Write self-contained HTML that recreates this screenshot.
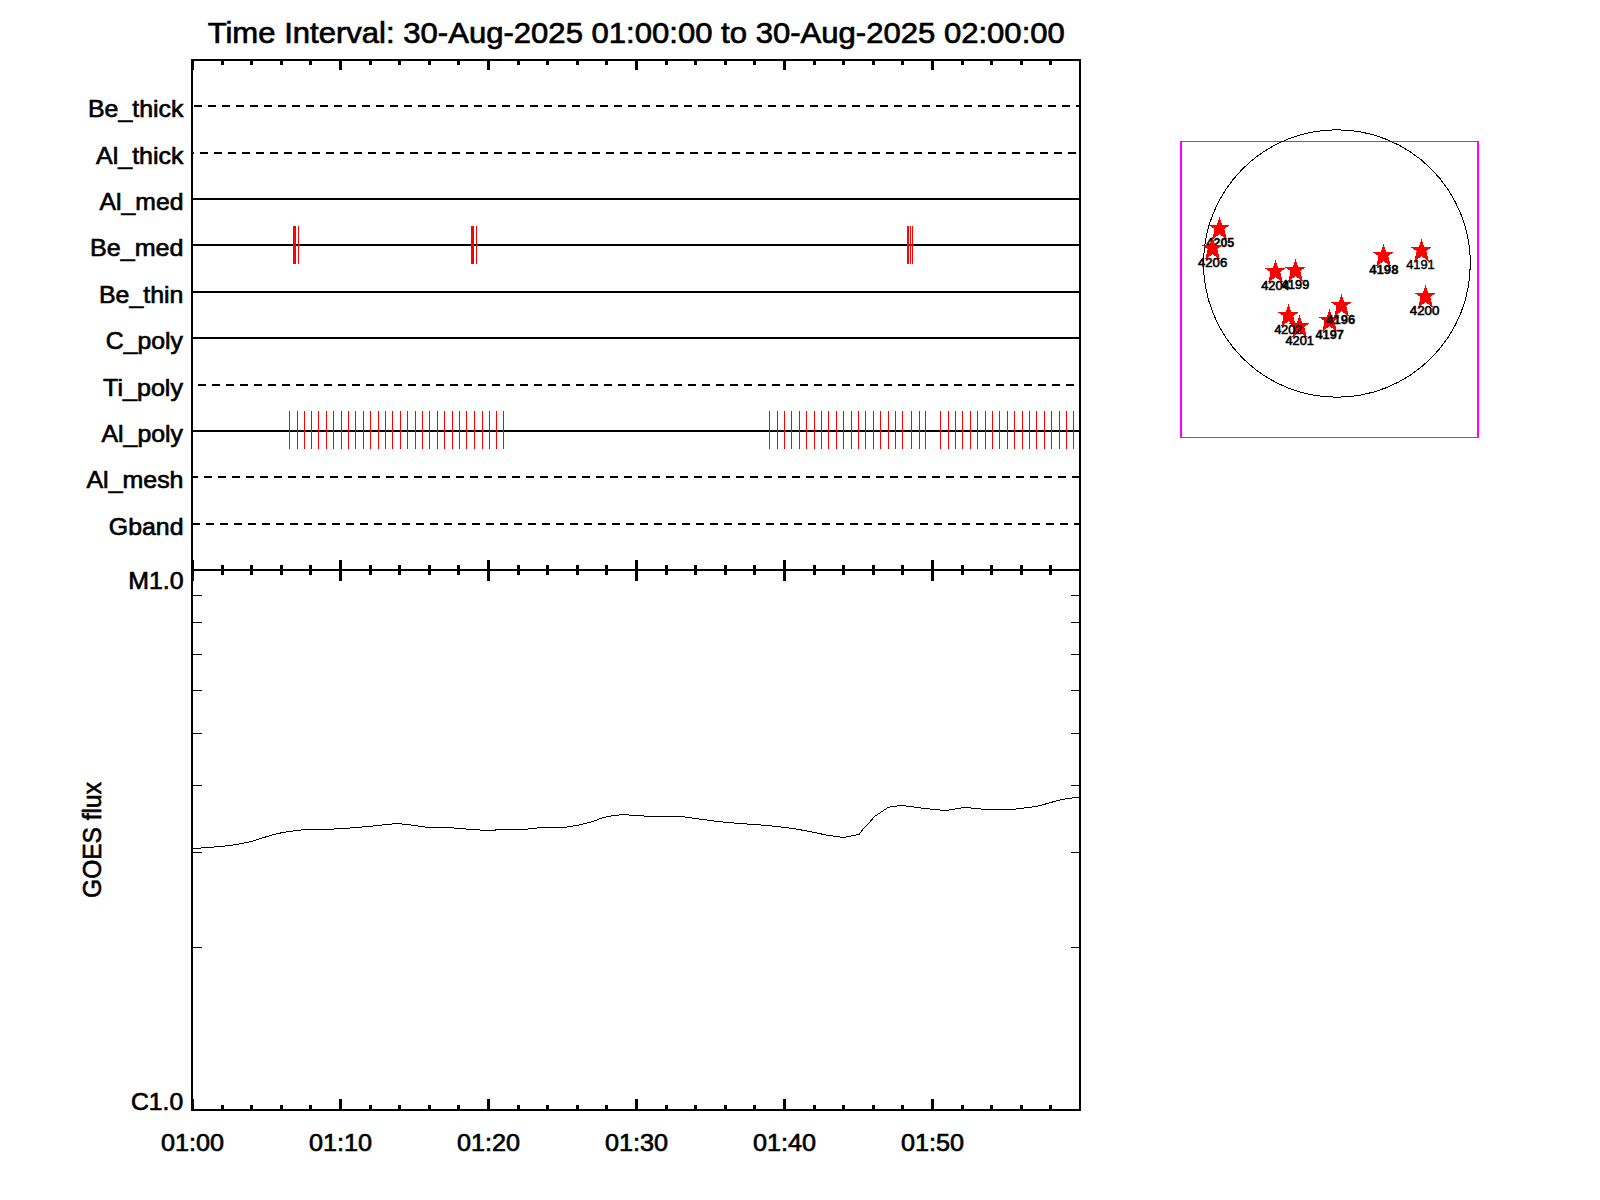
<!DOCTYPE html>
<html><head><meta charset="utf-8"><title>Time Interval plot</title>
<style>
html,body{margin:0;padding:0;background:#fff;}
svg{display:block;}
text{font-family:"Liberation Sans",sans-serif;fill:#000;}
.c{shape-rendering:crispEdges;}
</style></head><body>
<svg xmlns="http://www.w3.org/2000/svg" width="1600" height="1200" viewBox="0 0 1600 1200">
<rect width="1600" height="1200" fill="#fff"/>
<g class="c" fill="#000">
<path d="M194 105h8v2h-8zM208 105h8v2h-8zM222 105h8v2h-8zM236 105h8v2h-8zM250 105h8v2h-8zM264 105h8v2h-8zM278 105h8v2h-8zM292 105h8v2h-8zM306 105h8v2h-8zM320 105h8v2h-8zM334 105h8v2h-8zM348 105h8v2h-8zM362 105h8v2h-8zM376 105h8v2h-8zM390 105h8v2h-8zM404 105h8v2h-8zM418 105h8v2h-8zM432 105h8v2h-8zM446 105h8v2h-8zM460 105h8v2h-8zM474 105h8v2h-8zM488 105h8v2h-8zM502 105h8v2h-8zM516 105h8v2h-8zM530 105h8v2h-8zM544 105h8v2h-8zM558 105h8v2h-8zM572 105h8v2h-8zM586 105h8v2h-8zM600 105h8v2h-8zM614 105h8v2h-8zM628 105h8v2h-8zM642 105h8v2h-8zM656 105h8v2h-8zM670 105h8v2h-8zM684 105h8v2h-8zM698 105h8v2h-8zM712 105h8v2h-8zM726 105h8v2h-8zM740 105h8v2h-8zM754 105h8v2h-8zM768 105h8v2h-8zM782 105h8v2h-8zM796 105h8v2h-8zM810 105h8v2h-8zM824 105h8v2h-8zM838 105h8v2h-8zM852 105h8v2h-8zM866 105h8v2h-8zM880 105h8v2h-8zM894 105h8v2h-8zM908 105h8v2h-8zM922 105h8v2h-8zM936 105h8v2h-8zM950 105h8v2h-8zM964 105h8v2h-8zM978 105h8v2h-8zM992 105h8v2h-8zM1006 105h8v2h-8zM1020 105h8v2h-8zM1034 105h8v2h-8zM1048 105h8v2h-8zM1062 105h8v2h-8zM1076 105h4v2h-4z"/>
<path d="M192 152h2v2h-2zM200 152h8v2h-8zM214 152h8v2h-8zM228 152h8v2h-8zM242 152h8v2h-8zM256 152h8v2h-8zM270 152h8v2h-8zM284 152h8v2h-8zM298 152h8v2h-8zM312 152h8v2h-8zM326 152h8v2h-8zM340 152h8v2h-8zM354 152h8v2h-8zM368 152h8v2h-8zM382 152h8v2h-8zM396 152h8v2h-8zM410 152h8v2h-8zM424 152h8v2h-8zM438 152h8v2h-8zM452 152h8v2h-8zM466 152h8v2h-8zM480 152h8v2h-8zM494 152h8v2h-8zM508 152h8v2h-8zM522 152h8v2h-8zM536 152h8v2h-8zM550 152h8v2h-8zM564 152h8v2h-8zM578 152h8v2h-8zM592 152h8v2h-8zM606 152h8v2h-8zM620 152h8v2h-8zM634 152h8v2h-8zM648 152h8v2h-8zM662 152h8v2h-8zM676 152h8v2h-8zM690 152h8v2h-8zM704 152h8v2h-8zM718 152h8v2h-8zM732 152h8v2h-8zM746 152h8v2h-8zM760 152h8v2h-8zM774 152h8v2h-8zM788 152h8v2h-8zM802 152h8v2h-8zM816 152h8v2h-8zM830 152h8v2h-8zM844 152h8v2h-8zM858 152h8v2h-8zM872 152h8v2h-8zM886 152h8v2h-8zM900 152h8v2h-8zM914 152h8v2h-8zM928 152h8v2h-8zM942 152h8v2h-8zM956 152h8v2h-8zM970 152h8v2h-8zM984 152h8v2h-8zM998 152h8v2h-8zM1012 152h8v2h-8zM1026 152h8v2h-8zM1040 152h8v2h-8zM1054 152h8v2h-8zM1068 152h8v2h-8z"/>
<rect x="192" y="198" width="888" height="2"/>
<rect x="192" y="244" width="888" height="2"/>
<rect x="192" y="291" width="888" height="2"/>
<rect x="192" y="337" width="888" height="2"/>
<path d="M198 384h8v2h-8zM212 384h8v2h-8zM226 384h8v2h-8zM240 384h8v2h-8zM254 384h8v2h-8zM268 384h8v2h-8zM282 384h8v2h-8zM296 384h8v2h-8zM310 384h8v2h-8zM324 384h8v2h-8zM338 384h8v2h-8zM352 384h8v2h-8zM366 384h8v2h-8zM380 384h8v2h-8zM394 384h8v2h-8zM408 384h8v2h-8zM422 384h8v2h-8zM436 384h8v2h-8zM450 384h8v2h-8zM464 384h8v2h-8zM478 384h8v2h-8zM492 384h8v2h-8zM506 384h8v2h-8zM520 384h8v2h-8zM534 384h8v2h-8zM548 384h8v2h-8zM562 384h8v2h-8zM576 384h8v2h-8zM590 384h8v2h-8zM604 384h8v2h-8zM618 384h8v2h-8zM632 384h8v2h-8zM646 384h8v2h-8zM660 384h8v2h-8zM674 384h8v2h-8zM688 384h8v2h-8zM702 384h8v2h-8zM716 384h8v2h-8zM730 384h8v2h-8zM744 384h8v2h-8zM758 384h8v2h-8zM772 384h8v2h-8zM786 384h8v2h-8zM800 384h8v2h-8zM814 384h8v2h-8zM828 384h8v2h-8zM842 384h8v2h-8zM856 384h8v2h-8zM870 384h8v2h-8zM884 384h8v2h-8zM898 384h8v2h-8zM912 384h8v2h-8zM926 384h8v2h-8zM940 384h8v2h-8zM954 384h8v2h-8zM968 384h8v2h-8zM982 384h8v2h-8zM996 384h8v2h-8zM1010 384h8v2h-8zM1024 384h8v2h-8zM1038 384h8v2h-8zM1052 384h8v2h-8zM1066 384h8v2h-8z"/>
<rect x="192" y="430" width="888" height="2"/>
<path d="M192 476h6v2h-6zM204 476h8v2h-8zM218 476h8v2h-8zM232 476h8v2h-8zM246 476h8v2h-8zM260 476h8v2h-8zM274 476h8v2h-8zM288 476h8v2h-8zM302 476h8v2h-8zM316 476h8v2h-8zM330 476h8v2h-8zM344 476h8v2h-8zM358 476h8v2h-8zM372 476h8v2h-8zM386 476h8v2h-8zM400 476h8v2h-8zM414 476h8v2h-8zM428 476h8v2h-8zM442 476h8v2h-8zM456 476h8v2h-8zM470 476h8v2h-8zM484 476h8v2h-8zM498 476h8v2h-8zM512 476h8v2h-8zM526 476h8v2h-8zM540 476h8v2h-8zM554 476h8v2h-8zM568 476h8v2h-8zM582 476h8v2h-8zM596 476h8v2h-8zM610 476h8v2h-8zM624 476h8v2h-8zM638 476h8v2h-8zM652 476h8v2h-8zM666 476h8v2h-8zM680 476h8v2h-8zM694 476h8v2h-8zM708 476h8v2h-8zM722 476h8v2h-8zM736 476h8v2h-8zM750 476h8v2h-8zM764 476h8v2h-8zM778 476h8v2h-8zM792 476h8v2h-8zM806 476h8v2h-8zM820 476h8v2h-8zM834 476h8v2h-8zM848 476h8v2h-8zM862 476h8v2h-8zM876 476h8v2h-8zM890 476h8v2h-8zM904 476h8v2h-8zM918 476h8v2h-8zM932 476h8v2h-8zM946 476h8v2h-8zM960 476h8v2h-8zM974 476h8v2h-8zM988 476h8v2h-8zM1002 476h8v2h-8zM1016 476h8v2h-8zM1030 476h8v2h-8zM1044 476h8v2h-8zM1058 476h8v2h-8zM1072 476h8v2h-8z"/>
<path d="M192 523h8v2h-8zM206 523h8v2h-8zM220 523h8v2h-8zM234 523h8v2h-8zM248 523h8v2h-8zM262 523h8v2h-8zM276 523h8v2h-8zM290 523h8v2h-8zM304 523h8v2h-8zM318 523h8v2h-8zM332 523h8v2h-8zM346 523h8v2h-8zM360 523h8v2h-8zM374 523h8v2h-8zM388 523h8v2h-8zM402 523h8v2h-8zM416 523h8v2h-8zM430 523h8v2h-8zM444 523h8v2h-8zM458 523h8v2h-8zM472 523h8v2h-8zM486 523h8v2h-8zM500 523h8v2h-8zM514 523h8v2h-8zM528 523h8v2h-8zM542 523h8v2h-8zM556 523h8v2h-8zM570 523h8v2h-8zM584 523h8v2h-8zM598 523h8v2h-8zM612 523h8v2h-8zM626 523h8v2h-8zM640 523h8v2h-8zM654 523h8v2h-8zM668 523h8v2h-8zM682 523h8v2h-8zM696 523h8v2h-8zM710 523h8v2h-8zM724 523h8v2h-8zM738 523h8v2h-8zM752 523h8v2h-8zM766 523h8v2h-8zM780 523h8v2h-8zM794 523h8v2h-8zM808 523h8v2h-8zM822 523h8v2h-8zM836 523h8v2h-8zM850 523h8v2h-8zM864 523h8v2h-8zM878 523h8v2h-8zM892 523h8v2h-8zM906 523h8v2h-8zM920 523h8v2h-8zM934 523h8v2h-8zM948 523h8v2h-8zM962 523h8v2h-8zM976 523h8v2h-8zM990 523h8v2h-8zM1004 523h8v2h-8zM1018 523h8v2h-8zM1032 523h8v2h-8zM1046 523h8v2h-8zM1060 523h8v2h-8zM1074 523h6v2h-6z"/>
</g>
<g class="c" fill="#f00">
<rect x="293" y="226" width="3" height="38"/>
<rect x="298" y="226" width="1" height="38"/>
<rect x="471" y="226" width="3" height="38"/>
<rect x="476" y="226" width="1" height="38"/>
<rect x="907" y="226" width="2" height="38"/>
<rect x="910" y="226" width="1" height="38"/>
<rect x="912" y="226" width="1" height="38"/>
<path d="M289 411h1v38h-1zM297 411h1v38h-1zM304 411h1v38h-1zM311 411h1v38h-1zM318 411h1v38h-1zM326 411h1v38h-1zM333 411h1v38h-1zM341 411h1v38h-1zM348 411h1v38h-1zM355 411h1v38h-1zM363 411h1v38h-1zM370 411h1v38h-1zM378 411h1v38h-1zM385 411h1v38h-1zM392 411h1v38h-1zM400 411h1v38h-1zM407 411h1v38h-1zM415 411h1v38h-1zM422 411h1v38h-1zM429 411h1v38h-1zM437 411h1v38h-1zM444 411h1v38h-1zM452 411h1v38h-1zM459 411h1v38h-1zM466 411h1v38h-1zM474 411h1v38h-1zM482 411h1v38h-1zM489 411h1v38h-1zM496 411h1v38h-1zM503 411h1v38h-1zM769 411h1v38h-1zM777 411h1v38h-1zM784 411h1v38h-1zM791 411h1v38h-1zM799 411h1v38h-1zM806 411h1v38h-1zM814 411h1v38h-1zM821 411h1v38h-1zM828 411h1v38h-1zM836 411h1v38h-1zM843 411h1v38h-1zM851 411h1v38h-1zM858 411h1v38h-1zM865 411h1v38h-1zM873 411h1v38h-1zM880 411h1v38h-1zM888 411h1v38h-1zM895 411h1v38h-1zM902 411h1v38h-1zM911 411h1v38h-1zM919 411h1v38h-1zM925 411h1v38h-1zM940 411h1v38h-1zM948 411h1v38h-1zM955 411h1v38h-1zM962 411h1v38h-1zM970 411h1v38h-1zM977 411h1v38h-1zM985 411h1v38h-1zM992 411h1v38h-1zM999 411h1v38h-1zM1007 411h1v38h-1zM1014 411h1v38h-1zM1022 411h1v38h-1zM1029 411h1v38h-1zM1036 411h1v38h-1zM1044 411h1v38h-1zM1051 411h1v38h-1zM1059 411h1v38h-1zM1066 411h1v38h-1zM1073 411h1v38h-1z"/>
</g>
<g class="c" fill="#000">
<rect x="191" y="59" width="2" height="1052"/>
<rect x="1079" y="59" width="2" height="1052"/>
<rect x="191" y="59" width="890" height="2"/>
<rect x="191" y="569" width="890" height="2"/>
<rect x="191" y="1109" width="890" height="2"/>
<path d="M191 59h3v11h-3zM191 560h3v21h-3zM191 1099h3v12h-3zM221 59h3v6h-3zM221 565h3v10h-3zM221 1105h3v6h-3zM250 59h3v6h-3zM250 565h3v10h-3zM250 1105h3v6h-3zM280 59h3v6h-3zM280 565h3v10h-3zM280 1105h3v6h-3zM309 59h3v6h-3zM309 565h3v10h-3zM309 1105h3v6h-3zM339 59h3v11h-3zM339 560h3v21h-3zM339 1099h3v12h-3zM369 59h3v6h-3zM369 565h3v10h-3zM369 1105h3v6h-3zM398 59h3v6h-3zM398 565h3v10h-3zM398 1105h3v6h-3zM428 59h3v6h-3zM428 565h3v10h-3zM428 1105h3v6h-3zM457 59h3v6h-3zM457 565h3v10h-3zM457 1105h3v6h-3zM487 59h3v11h-3zM487 560h3v21h-3zM487 1099h3v12h-3zM517 59h3v6h-3zM517 565h3v10h-3zM517 1105h3v6h-3zM546 59h3v6h-3zM546 565h3v10h-3zM546 1105h3v6h-3zM576 59h3v6h-3zM576 565h3v10h-3zM576 1105h3v6h-3zM605 59h3v6h-3zM605 565h3v10h-3zM605 1105h3v6h-3zM635 59h3v11h-3zM635 560h3v21h-3zM635 1099h3v12h-3zM665 59h3v6h-3zM665 565h3v10h-3zM665 1105h3v6h-3zM694 59h3v6h-3zM694 565h3v10h-3zM694 1105h3v6h-3zM724 59h3v6h-3zM724 565h3v10h-3zM724 1105h3v6h-3zM753 59h3v6h-3zM753 565h3v10h-3zM753 1105h3v6h-3zM783 59h3v11h-3zM783 560h3v21h-3zM783 1099h3v12h-3zM813 59h3v6h-3zM813 565h3v10h-3zM813 1105h3v6h-3zM842 59h3v6h-3zM842 565h3v10h-3zM842 1105h3v6h-3zM872 59h3v6h-3zM872 565h3v10h-3zM872 1105h3v6h-3zM901 59h3v6h-3zM901 565h3v10h-3zM901 1105h3v6h-3zM931 59h3v11h-3zM931 560h3v21h-3zM931 1099h3v12h-3zM961 59h3v6h-3zM961 565h3v10h-3zM961 1105h3v6h-3zM990 59h3v6h-3zM990 565h3v10h-3zM990 1105h3v6h-3zM1020 59h3v6h-3zM1020 565h3v10h-3zM1020 1105h3v6h-3zM1049 59h3v6h-3zM1049 565h3v10h-3zM1049 1105h3v6h-3z"/>
<path d="M193 947h9v1h-9zM1071 947h9v1h-9zM193 852h9v1h-9zM1071 852h9v1h-9zM193 785h9v1h-9zM1071 785h9v1h-9zM193 733h9v1h-9zM1071 733h9v1h-9zM193 690h9v1h-9zM1071 690h9v1h-9zM193 654h9v1h-9zM1071 654h9v1h-9zM193 622h9v1h-9zM1071 622h9v1h-9zM193 595h9v1h-9zM1071 595h9v1h-9z"/>
</g>
<polyline class="c" fill="none" stroke="#000" stroke-width="1" points="192.0,848.5 196.0,848.5 207.0,847.5 220.5,846.5 229.5,845.5 236.0,844.5 241.5,843.5 246.5,842.5 251.0,841.5 254.5,840.5 257.5,839.5 260.8,838.5 264.0,837.5 267.0,836.5 270.4,835.5 274.4,834.5 278.4,833.5 282.8,832.5 289.0,831.5 298.0,830.5 305.0,829.5 331.0,829.5 336.5,828.5 344.0,828.5 355.5,827.5 368.5,826.5 377.6,825.5 386.6,824.5 397.4,823.5 407.0,824.5 414.5,825.5 422.0,826.5 428.0,827.5 449.0,827.5 458.5,828.5 473.5,829.5 485.5,830.5 493.0,830.5 498.0,829.5 523.0,829.5 532.5,828.5 542.0,827.5 564.0,827.5 570.0,826.5 576.5,825.5 581.2,824.5 585.4,823.5 589.2,822.5 592.5,821.5 595.5,820.5 598.1,819.5 600.7,818.5 603.6,817.5 607.6,816.5 614.3,815.5 623.6,814.5 634.5,815.5 642.0,815.5 646.0,816.5 682.0,816.5 688.0,817.5 695.6,818.5 703.1,819.5 710.6,820.5 718.2,821.5 727.6,822.5 740.0,823.5 754.5,824.5 767.5,825.5 777.0,826.5 784.5,827.5 792.8,828.5 798.6,829.5 804.3,830.5 809.5,831.5 814.6,832.5 819.3,833.5 823.7,834.5 829.1,835.5 836.2,836.5 843.0,837.5 848.4,836.5 853.3,835.5 858.9,834.5 862.2,830.1 869.7,822.2 873.9,817.0 887.5,807.8 892.2,806.5 899.2,805.8 902.5,805.5 909.8,806.5 917.5,807.5 925.2,808.5 934.6,809.5 945.0,810.5 952.4,809.5 957.6,808.5 964.6,807.5 976.5,808.5 986.0,809.5 1012.0,809.5 1019.4,808.5 1028.8,807.5 1035.4,806.5 1040.1,805.5 1043.9,804.5 1047.1,803.5 1050.6,802.5 1054.4,801.5 1058.1,800.5 1062.1,799.5 1068.6,798.5 1076.0,797.5 1080.0,797.5"/>
<text x="207.65" y="42.65" font-size="29.5" textLength="857.21" lengthAdjust="spacingAndGlyphs" stroke="#000" stroke-width="0.7">Time Interval: 30-Aug-2025 01:00:00 to 30-Aug-2025 02:00:00</text>
<text x="88.03" y="116.68" font-size="23.76" textLength="95.51" lengthAdjust="spacingAndGlyphs" stroke="#000" stroke-width="0.65">Be_thick</text>
<text x="96.03" y="163.68" font-size="23.76" textLength="87.51" lengthAdjust="spacingAndGlyphs" stroke="#000" stroke-width="0.65">Al_thick</text>
<text x="99.53" y="209.68" font-size="23.76" textLength="83.94" lengthAdjust="spacingAndGlyphs" stroke="#000" stroke-width="0.65">Al_med</text>
<text x="90.02" y="255.68" font-size="23.76" textLength="93.48" lengthAdjust="spacingAndGlyphs" stroke="#000" stroke-width="0.65">Be_med</text>
<text x="99.03" y="302.68" font-size="23.76" textLength="84.46" lengthAdjust="spacingAndGlyphs" stroke="#000" stroke-width="0.65">Be_thin</text>
<text x="105.82" y="348.68" font-size="23.76" textLength="77.16" lengthAdjust="spacingAndGlyphs" stroke="#000" stroke-width="0.65">C_poly</text>
<text x="103.07" y="395.68" font-size="23.76" textLength="79.91" lengthAdjust="spacingAndGlyphs" stroke="#000" stroke-width="0.65">Ti_poly</text>
<text x="101.48" y="441.68" font-size="23.76" textLength="81.50" lengthAdjust="spacingAndGlyphs" stroke="#000" stroke-width="0.65">Al_poly</text>
<text x="86.48" y="487.68" font-size="23.76" textLength="97.02" lengthAdjust="spacingAndGlyphs" stroke="#000" stroke-width="0.65">Al_mesh</text>
<text x="108.82" y="534.68" font-size="23.76" textLength="74.65" lengthAdjust="spacingAndGlyphs" stroke="#000" stroke-width="0.65">Gband</text>
<text x="128.28" y="588.68" font-size="23.76" textLength="55.37" lengthAdjust="spacingAndGlyphs" stroke="#000" stroke-width="0.65">M1.0</text>
<text x="130.97" y="1109.68" font-size="23.76" textLength="52.17" lengthAdjust="spacingAndGlyphs" stroke="#000" stroke-width="0.65">C1.0</text>
<text x="160.94" y="1150.85" font-size="23.76" textLength="63.12" lengthAdjust="spacingAndGlyphs" stroke="#000" stroke-width="0.65">01:00</text>
<text x="308.94" y="1150.85" font-size="23.76" textLength="63.12" lengthAdjust="spacingAndGlyphs" stroke="#000" stroke-width="0.65">01:10</text>
<text x="456.94" y="1150.85" font-size="23.76" textLength="63.12" lengthAdjust="spacingAndGlyphs" stroke="#000" stroke-width="0.65">01:20</text>
<text x="604.94" y="1150.85" font-size="23.76" textLength="63.12" lengthAdjust="spacingAndGlyphs" stroke="#000" stroke-width="0.65">01:30</text>
<text x="752.94" y="1150.85" font-size="23.76" textLength="63.12" lengthAdjust="spacingAndGlyphs" stroke="#000" stroke-width="0.65">01:40</text>
<text x="900.94" y="1150.85" font-size="23.76" textLength="63.12" lengthAdjust="spacingAndGlyphs" stroke="#000" stroke-width="0.65">01:50</text>
<text transform="translate(100.68,897.91) rotate(-90)" font-size="25.2" textLength="115.85" lengthAdjust="spacingAndGlyphs" stroke="#000" stroke-width="0.65">GOES flux</text>
<g class="c">
<rect x="1180" y="141" width="2" height="297" fill="#f0f"/><rect x="1477" y="141" width="2" height="297" fill="#f0f"/><rect x="1180" y="141" width="299" height="1" fill="#f0f"/><rect x="1180" y="437" width="299" height="1" fill="#f0f"/>
<ellipse cx="1336.9" cy="263.5" rx="133.4" ry="133.7" fill="none" stroke="#000" stroke-width="1"/>
</g>
<polygon class="c" fill="#f00" points="1421.5,239.1 1424.2,246.6 1431.2,247.2 1426.4,251.1 1428.8,261.5 1421.5,256.2 1414.2,261.5 1416.6,251.1 1410.9,247.2 1418.8,246.6"/>
<text x="1406.15" y="268.9" font-size="12.6" text-anchor="start" textLength="28.55" lengthAdjust="spacingAndGlyphs" stroke="#000" stroke-width="0.4">4191</text>
<polygon class="c" fill="#f00" points="1383.5,244.1 1386.2,251.6 1393.2,252.2 1388.4,256.1 1390.8,266.5 1383.5,261.2 1376.2,266.5 1378.6,256.1 1372.9,252.2 1380.8,251.6"/>
<text x="1369.25" y="273.9" font-size="12.6" text-anchor="start" textLength="29.2" lengthAdjust="spacingAndGlyphs" stroke="#000" stroke-width="0.3" font-weight="bold">4198</text>
<polygon class="c" fill="#f00" points="1425.5,285.1 1428.2,292.6 1435.2,293.2 1430.4,297.1 1432.8,307.5 1425.5,302.2 1418.2,307.5 1420.6,297.1 1414.9,293.2 1422.8,292.6"/>
<text x="1409.8" y="314.9" font-size="12.6" text-anchor="start" textLength="29.6" lengthAdjust="spacingAndGlyphs" stroke="#000" stroke-width="0.6">4200</text>
<polygon class="c" fill="#f00" points="1295.5,259.1 1298.2,266.6 1305.2,267.2 1300.4,271.1 1302.8,281.5 1295.5,276.2 1288.2,281.5 1290.6,271.1 1284.9,267.2 1292.8,266.6"/>
<text x="1281.0" y="288.9" font-size="12.6" text-anchor="start" textLength="28.2" lengthAdjust="spacingAndGlyphs" stroke="#000" stroke-width="0.6">4199</text>
<polygon class="c" fill="#f00" points="1275.5,260.1 1278.2,267.6 1285.2,268.2 1280.4,272.1 1282.8,282.5 1275.5,277.2 1268.2,282.5 1270.6,272.1 1264.9,268.2 1272.8,267.6"/>
<text x="1261.25" y="289.9" font-size="12.6" text-anchor="start" textLength="28.45" lengthAdjust="spacingAndGlyphs" stroke="#000" stroke-width="0.6">4204</text>
<polygon class="c" fill="#f00" points="1299.5,315.1 1302.2,322.6 1309.2,323.2 1304.4,327.1 1306.8,337.5 1299.5,332.2 1292.2,337.5 1294.6,327.1 1288.9,323.2 1296.8,322.6"/>
<text x="1285.4" y="344.9" font-size="12.6" text-anchor="start" textLength="28.55" lengthAdjust="spacingAndGlyphs" stroke="#000" stroke-width="0.6">4201</text>
<polygon class="c" fill="#f00" points="1288.5,304.1 1291.2,311.6 1298.2,312.2 1293.4,316.1 1295.8,326.5 1288.5,321.2 1281.2,326.5 1283.6,316.1 1277.9,312.2 1285.8,311.6"/>
<text x="1274.4" y="333.9" font-size="12.6" text-anchor="start" textLength="27.7" lengthAdjust="spacingAndGlyphs" stroke="#000" stroke-width="0.6">4202</text>
<polygon class="c" fill="#f00" points="1329.5,309.1 1332.2,316.6 1339.2,317.2 1334.4,321.1 1336.8,331.5 1329.5,326.2 1322.2,331.5 1324.6,321.1 1318.9,317.2 1326.8,316.6"/>
<text x="1315.45" y="338.9" font-size="12.6" text-anchor="start" textLength="28.4" lengthAdjust="spacingAndGlyphs" stroke="#000" stroke-width="0.3" font-weight="bold">4197</text>
<polygon class="c" fill="#f00" points="1341.5,294.1 1344.2,301.6 1351.2,302.2 1346.4,306.1 1348.8,316.5 1341.5,311.2 1334.2,316.5 1336.6,306.1 1330.9,302.2 1338.8,301.6"/>
<text x="1326.1" y="323.9" font-size="12.6" text-anchor="start" textLength="29.25" lengthAdjust="spacingAndGlyphs" stroke="#000" stroke-width="0.3" font-weight="bold">4196</text>
<polygon class="c" fill="#f00" points="1219.5,217.1 1222.2,224.6 1229.2,225.2 1224.4,229.1 1226.8,239.5 1219.5,234.2 1212.2,239.5 1214.6,229.1 1208.9,225.2 1216.8,224.6"/>
<text x="1206.55" y="246.9" font-size="12.6" text-anchor="start" textLength="27.7" lengthAdjust="spacingAndGlyphs" stroke="#000" stroke-width="0.3" font-weight="bold">4205</text>
<polygon class="c" fill="#f00" points="1212.5,237.1 1215.2,244.6 1222.2,245.2 1217.4,249.1 1219.8,259.5 1212.5,254.2 1205.2,259.5 1207.6,249.1 1201.9,245.2 1209.8,244.6"/>
<text x="1198.0" y="266.9" font-size="12.6" text-anchor="start" textLength="29.2" lengthAdjust="spacingAndGlyphs" stroke="#000" stroke-width="0.6">4206</text>
</svg></body></html>
